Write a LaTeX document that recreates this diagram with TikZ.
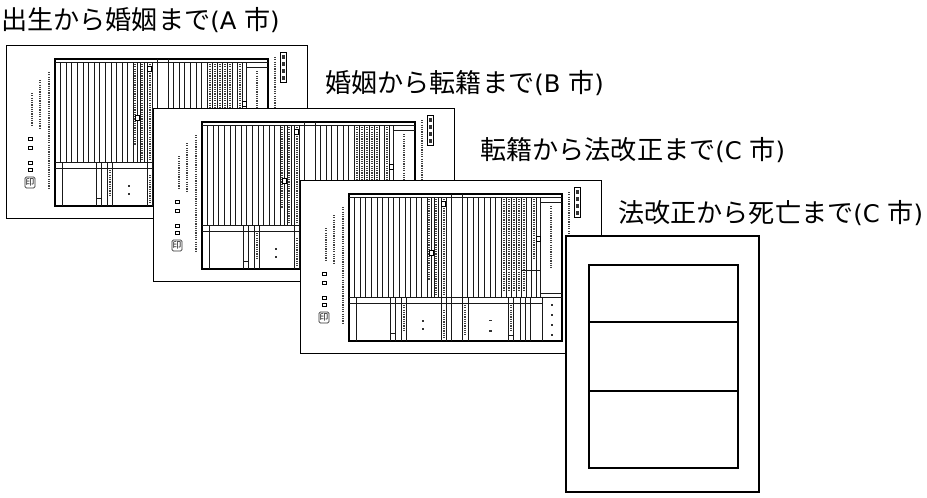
\documentclass[tikz,border=0pt]{standalone}
\usepackage{fontspec}
\newfontfamily\jpfont{Noto Sans CJK JP}
\newfontfamily\latfont{DejaVu Sans}
\newcommand\lat[1]{{\latfont\fontsize{18.2}{20}\selectfont #1}}
\tikzset{
  lbl/.style={anchor=west, inner sep=0pt, font=\jpfont\fontsize{19.6}{21}\selectfont},
  sheetbox/.style={draw=black, fill=white, line width=0.75pt},
  tblborder/.style={draw=black, line width=1pt},
  tl/.style={draw=black!90, line width=0.55pt},
  tinytext/.style={draw=black!75, line width=1.5pt, dash pattern=on 0.9pt off 0.8pt},
  minibox/.style={draw=black, line width=0.45pt, fill=white},
  frameline/.style={draw=black, line width=1.6pt},
  rowline/.style={draw=black, line width=0.9pt},
}
\newcommand\kosekiform[1]{%
\begin{scope}[shift={#1}]
  \path[sheetbox] (0,0) rectangle (301,173);
  % notes on the left
  \draw[tinytext] (26,48) -- (26,80);
  \draw[tinytext] (34,35) -- (34,83);
  \draw[tinytext] (43,27) -- (43,143);
  \foreach \yy in {92,101,116,123} \draw[minibox, line width=0.6pt] (22,\yy) rectangle (26,\yy+3.5);
  \draw[draw=black!80, line width=0.5pt, rounded corners=1pt] (19,132) rectangle (29,143);
  \node[inner sep=0pt, font=\jpfont\fontsize{6.5}{7}\selectfont] at (24,137.5) {印};
  % stamp at top right
  \draw[minibox] (274,7) rectangle (280,37);
  \foreach \yy in {10,17,24,31} \fill[black!80] (275.5,\yy) rectangle (278.5,\yy+4);
  \draw[tinytext] (268.5,12) -- (268.5,80);
  % table
  \draw[tblborder] (49,14) rectangle (262,161);
  \draw[tl] (49,17) -- (262,17);
  % gap column
  \draw[tl] (151,14) -- (151,161);
  \draw[tl] (162,14) -- (162,161);
  % upper left
  \foreach \i in {1,...,14} \draw[tl] ({49+5.6*\i},17) -- ({49+5.6*\i},117);
  \foreach \xx in {131,134,138,141,146} \draw[tl] (\xx,17) -- (\xx,117);
  \draw[tinytext] (129.3,19) -- (129.3,100);
  \draw[tinytext] (136,19) -- (136,115);
  \draw[tinytext] (143.5,19) -- (143.5,115);
  \draw[minibox] (129.5,70) rectangle (133,75);
  \draw[minibox] (141.5,21) rectangle (145,26);
  % upper right
  \foreach \i in {1,...,7} \draw[tl] ({162+5.6*\i},17) -- ({162+5.6*\i},117);
  \foreach \xx in {206.5,211.5,216.5,221.5,226.5,231,236,240} \draw[tl] (\xx,17) -- (\xx,117);
  \foreach \xx in {204,209,214,219,224} \draw[tinytext] (\xx,19) -- (\xx,110);
  \draw[tinytext] (233.5,19) -- (233.5,80);
  \draw[tl] (240,22) -- (262,22);
  \draw[tinytext] (251,26) -- (251,88);
  \draw[minibox] (236.5,56) rectangle (240,61);
  \draw[tl] (222,90) -- (240,90);
  \draw[tl] (240,113) -- (262,113);
  % lower part
  \draw[tl] (49,117) -- (262,117);
  \draw[tl] (49,123) -- (242,123);
  \draw[tl] (242,117) -- (242,161);
  \foreach \xx in {56,90,95,101,106,141,146} \draw[tl] (\xx,117) -- (\xx,161);
  \draw[tl] (90,153) -- (95,153);
  \draw[tinytext] (103.5,125) -- (103.5,152);
  \draw[tinytext] (143.5,130) -- (143.5,158);
  \fill[black!80] (121.5,140) rectangle (124,142);
  \fill[black!80] (121.5,148) rectangle (124,150);
  \foreach \xx in {168,208,213,220,225,230} \draw[tl] (\xx,117) -- (\xx,161);
  \draw[tinytext] (165,125) -- (165,155);
  \draw[tinytext] (210.5,125) -- (210.5,150);
  \fill[black!80] (189,140) rectangle (191.5,141);
  \fill[black!80] (189,150) rectangle (191.5,152);
  \draw[tl] (208,155) -- (213,155);
  \foreach \yy in {124,134,144,154} \fill[black!80] (251,\yy) rectangle (253,\yy+1.5);
\end{scope}}
\begin{document}
\begin{tikzpicture}[x=0.75pt,y=-0.75pt]
  \useasboundingbox (0,0) rectangle (927,497);
  \fill[white] (0,0) rectangle (927,497);
  % sheets
  \kosekiform{(6,45)}
  \kosekiform{(153,108)}
  \kosekiform{(300,180)}
  % last form
  \draw[frameline, fill=white] (566,236) rectangle (759,492);
  \draw[frameline] (589,265) rectangle (738,468);
  \draw[rowline] (589,322) -- (738,322);
  \draw[rowline] (589,391) -- (738,391);
  % labels
  \node[lbl] (la) at (1,20) {出生から婚姻まで\lat{(A }市\lat{)}};
  \node[lbl] (lb) at (325,83) {婚姻から転籍まで\lat{(B }市\lat{)}};
  \node[lbl] (lc) at (480,150) {転籍から法改正まで\lat{(C }市\lat{)}};
  \node[lbl] (ld) at (618,213) {法改正から死亡まで\lat{(C }市\lat{)}};
\end{tikzpicture}
\end{document}
